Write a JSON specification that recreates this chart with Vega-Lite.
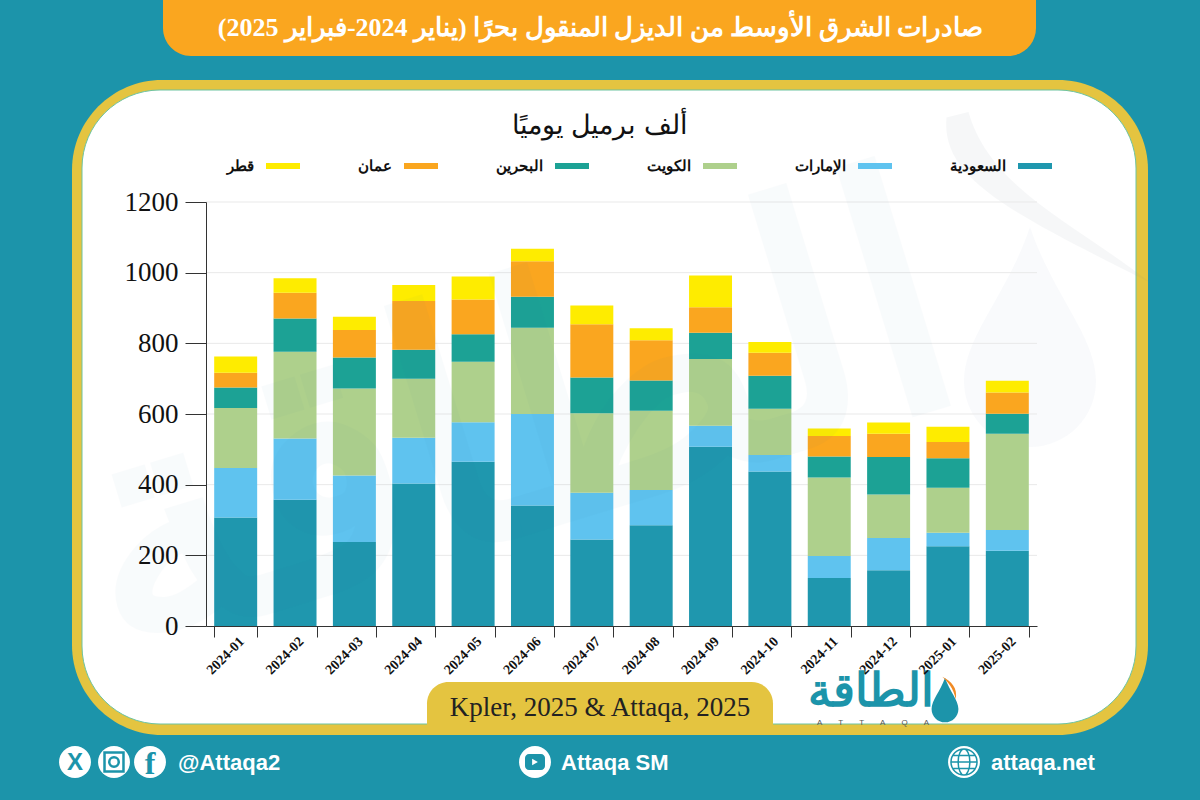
{
"$schema":"https://vega.github.io/schema/vega-lite/v6.json",
"width":831,"height":424,
"autosize":{"type":"none"},
"padding":{"left":206,"top":202,"right":163,"bottom":174},
"background":"#1c94aa",
"title":{"text":"صادرات الشرق الأوسط من الديزل المنقول بحرًا (يناير 2024-فبراير 2025)","anchor":"middle","frame":"group","dx":-21,"offset":-54,"baseline":"middle","font":"Liberation Serif","fontSize":26,"fontWeight":"bold","color":"#ffffff"},
"config":{"view":{"stroke":null}},
"datasets":{
"exports":[
{"month":"2024-01","country":"السعودية","rank":1,"value":307},{"month":"2024-01","country":"الإمارات","rank":2,"value":140},{"month":"2024-01","country":"الكويت","rank":3,"value":170},{"month":"2024-01","country":"البحرين","rank":4,"value":58},{"month":"2024-01","country":"عمان","rank":5,"value":42},{"month":"2024-01","country":"قطر","rank":6,"value":46},
{"month":"2024-02","country":"السعودية","rank":1,"value":357},{"month":"2024-02","country":"الإمارات","rank":2,"value":174},{"month":"2024-02","country":"الكويت","rank":3,"value":245},{"month":"2024-02","country":"البحرين","rank":4,"value":94},{"month":"2024-02","country":"عمان","rank":5,"value":73},{"month":"2024-02","country":"قطر","rank":6,"value":41},
{"month":"2024-03","country":"السعودية","rank":1,"value":238},{"month":"2024-03","country":"الإمارات","rank":2,"value":188},{"month":"2024-03","country":"الكويت","rank":3,"value":246},{"month":"2024-03","country":"البحرين","rank":4,"value":88},{"month":"2024-03","country":"عمان","rank":5,"value":78},{"month":"2024-03","country":"قطر","rank":6,"value":37},
{"month":"2024-04","country":"السعودية","rank":1,"value":403},{"month":"2024-04","country":"الإمارات","rank":2,"value":130},{"month":"2024-04","country":"الكويت","rank":3,"value":167},{"month":"2024-04","country":"البحرين","rank":4,"value":82},{"month":"2024-04","country":"عمان","rank":5,"value":138},{"month":"2024-04","country":"قطر","rank":6,"value":45},
{"month":"2024-05","country":"السعودية","rank":1,"value":465},{"month":"2024-05","country":"الإمارات","rank":2,"value":112},{"month":"2024-05","country":"الكويت","rank":3,"value":171},{"month":"2024-05","country":"البحرين","rank":4,"value":78},{"month":"2024-05","country":"عمان","rank":5,"value":98},{"month":"2024-05","country":"قطر","rank":6,"value":65},
{"month":"2024-06","country":"السعودية","rank":1,"value":341},{"month":"2024-06","country":"الإمارات","rank":2,"value":259},{"month":"2024-06","country":"الكويت","rank":3,"value":244},{"month":"2024-06","country":"البحرين","rank":4,"value":88},{"month":"2024-06","country":"عمان","rank":5,"value":100},{"month":"2024-06","country":"قطر","rank":6,"value":36},
{"month":"2024-07","country":"السعودية","rank":1,"value":245},{"month":"2024-07","country":"الإمارات","rank":2,"value":132},{"month":"2024-07","country":"الكويت","rank":3,"value":225},{"month":"2024-07","country":"البحرين","rank":4,"value":101},{"month":"2024-07","country":"عمان","rank":5,"value":151},{"month":"2024-07","country":"قطر","rank":6,"value":53},
{"month":"2024-08","country":"السعودية","rank":1,"value":285},{"month":"2024-08","country":"الإمارات","rank":2,"value":100},{"month":"2024-08","country":"الكويت","rank":3,"value":224},{"month":"2024-08","country":"البحرين","rank":4,"value":86},{"month":"2024-08","country":"عمان","rank":5,"value":114},{"month":"2024-08","country":"قطر","rank":6,"value":34},
{"month":"2024-09","country":"السعودية","rank":1,"value":507},{"month":"2024-09","country":"الإمارات","rank":2,"value":60},{"month":"2024-09","country":"الكويت","rank":3,"value":189},{"month":"2024-09","country":"البحرين","rank":4,"value":74},{"month":"2024-09","country":"عمان","rank":5,"value":72},{"month":"2024-09","country":"قطر","rank":6,"value":90},
{"month":"2024-10","country":"السعودية","rank":1,"value":437},{"month":"2024-10","country":"الإمارات","rank":2,"value":47},{"month":"2024-10","country":"الكويت","rank":3,"value":131},{"month":"2024-10","country":"البحرين","rank":4,"value":93},{"month":"2024-10","country":"عمان","rank":5,"value":65},{"month":"2024-10","country":"قطر","rank":6,"value":31},
{"month":"2024-11","country":"السعودية","rank":1,"value":136},{"month":"2024-11","country":"الإمارات","rank":2,"value":62},{"month":"2024-11","country":"الكويت","rank":3,"value":222},{"month":"2024-11","country":"البحرين","rank":4,"value":60},{"month":"2024-11","country":"عمان","rank":5,"value":58},{"month":"2024-11","country":"قطر","rank":6,"value":21},
{"month":"2024-12","country":"السعودية","rank":1,"value":158},{"month":"2024-12","country":"الإمارات","rank":2,"value":91},{"month":"2024-12","country":"الكويت","rank":3,"value":123},{"month":"2024-12","country":"البحرين","rank":4,"value":106},{"month":"2024-12","country":"عمان","rank":5,"value":66},{"month":"2024-12","country":"قطر","rank":6,"value":32},
{"month":"2025-01","country":"السعودية","rank":1,"value":226},{"month":"2025-01","country":"الإمارات","rank":2,"value":38},{"month":"2025-01","country":"الكويت","rank":3,"value":127},{"month":"2025-01","country":"البحرين","rank":4,"value":84},{"month":"2025-01","country":"عمان","rank":5,"value":46},{"month":"2025-01","country":"قطر","rank":6,"value":43},
{"month":"2025-02","country":"السعودية","rank":1,"value":213},{"month":"2025-02","country":"الإمارات","rank":2,"value":59},{"month":"2025-02","country":"الكويت","rank":3,"value":272},{"month":"2025-02","country":"البحرين","rank":4,"value":57},{"month":"2025-02","country":"عمان","rank":5,"value":60},{"month":"2025-02","country":"قطر","rank":6,"value":33}
],
"grid":[{"tick":200},{"tick":400},{"tick":600},{"tick":800},{"tick":1000},{"tick":1200}],
"one":[{"note":"frame"}]
},
"layer":[
{"data":{"name":"one"},"mark":{"type":"rect","x":-134,"x2":942,"y":-122,"y2":533,"fill":"#e4c440","cornerRadius":90}},
{"data":{"name":"one"},"mark":{"type":"rect","x":-124,"x2":930,"y":-112,"y2":522,"fill":"#ffffff","stroke":"#6cc3a0","strokeWidth":1,"cornerRadius":78}},
{"data":{"name":"one"},"mark":{"type":"rect","x":-43,"x2":830,"y":-202,"y2":-146,"fill":"#faa61f","cornerRadiusBottomLeft":34,"cornerRadiusBottomRight":34}},
{"data":{"name":"one"},"mark":{"type":"rect","x":221,"x2":567,"y":480,"y2":523,"fill":"#e4c440","cornerRadiusTopLeft":28,"cornerRadiusTopRight":28}},
{"data":{"name":"one"},"mark":{"type":"point","x":824,"y":135,"shape":"M0,-1C0.2,-0.4 0.6,0 0.6,0.4A0.6,0.6 0 0 1 -0.6,0.4C-0.6,0 -0.2,-0.4 0,-1Z","size":48400,"filled":true,"fill":"#5a7fa8","opacity":0.035}},
{"data":{"name":"one"},"mark":{"type":"point","x":845,"y":20,"shape":"M-0.95,-0.95C-1,-0.4 -0.4,-0.1 0.9,0.55C0.2,0 -0.55,-0.3 -0.75,-1Z","size":48400,"filled":true,"fill":"#8090a0","opacity":0.07}},
{"data":{"name":"grid"},"mark":{"type":"rule","color":"#e9e9e9","strokeWidth":1},"encoding":{"y":{"field":"tick","type":"quantitative","scale":{"domain":[0,1200]}}}},
{"data":{"name":"exports"},"mark":{"type":"bar"},
"encoding":{
"x":{"field":"month","type":"nominal","sort":null,"scale":{"paddingInner":0.276,"paddingOuter":0.138},
"axis":{"zindex":1,"title":null,"domainColor":"#333333","tickColor":"#333333","tickSize":11,"tickBand":"extent","labelAngle":-45,"labelAlign":"right","labelBaseline":"middle","labelFont":"Liberation Serif","labelFontWeight":"bold","labelFontSize":14,"labelColor":"#111111","labelPadding":2,"labelOffset":6,"labelOverlap":false}},
"y":{"field":"value","type":"quantitative","stack":"zero","scale":{"domain":[0,1200]},
"axis":{"zindex":1,"format":"d","title":"ألف برميل يوميًا","titleAngle":0,"titleX":393,"titleY":-77,"titleAlign":"center","titleBaseline":"middle","titleFont":"Liberation Sans","titleFontSize":27,"titleFontWeight":"normal","titleColor":"#111111","values":[0,200,400,600,800,1000,1200],"grid":false,"domainColor":"#333333","tickColor":"#333333","tickSize":21,"labelFont":"Liberation Serif","labelFontSize":27,"labelColor":"#111111","labelPadding":7}},
"order":{"field":"rank","type":"quantitative"},
"color":{"field":"country","type":"nominal","title":null,
"scale":{"domain":["السعودية","الإمارات","الكويت","البحرين","عمان","قطر"],"range":["#1f97ae","#5fc3ef","#aed08c","#1ca295","#faa61f","#feec00"]},
"legend":{"orient":"none","legendX":60,"legendY":-53,"direction":"horizontal","columns":6,"values":["قطر","عمان","البحرين","الكويت","الإمارات","السعودية"],"columnPadding":58,"symbolType":"M-1,-0.176H1V0.176H-1Z","symbolSize":1156,"symbolStrokeWidth":0,"symbolOpacity":1,"labelAlign":"right","labelOffset":-46,"labelFont":"Liberation Sans","labelFontSize":15,"labelFontWeight":"bold","labelColor":"#111111","labelLimit":200}}
}},
{"data":{"name":"one"},"mark":{"type":"text","x":394,"y":506,"text":"Kpler, 2025 & Attaqa, 2025","font":"Liberation Serif","fontSize":27,"color":"#222222","align":"center","baseline":"middle"}},
{"data":{"name":"one"},"mark":{"type":"text","x":665,"y":490,"text":"الطاقة","font":"Liberation Sans","fontWeight":"bold","fontSize":46,"color":"#1c94aa","align":"center","baseline":"middle"}},
{"data":{"name":"one"},"mark":{"type":"text","x":667,"y":521,"text":"A\u2003\u2003T\u2003\u2003T\u2003\u2003A\u2003\u2003Q\u2003\u2003A","font":"Liberation Sans","fontSize":8,"color":"#555555","align":"center","baseline":"middle"}},
{"data":{"name":"one"},"mark":{"type":"point","x":739,"y":498,"shape":"M0,-1C0.2,-0.4 0.6,0 0.6,0.4A0.6,0.6 0 0 1 -0.6,0.4C-0.6,0 -0.2,-0.4 0,-1Z","size":2000,"filled":true,"fill":"#1c94aa","opacity":1}},
{"data":{"name":"one"},"mark":{"type":"point","x":743,"y":486,"shape":"M-0.6,-1C0.2,-0.6 0.8,0 0.6,1C0.4,0 -0.1,-0.5 -0.6,-1Z","size":500,"filled":true,"fill":"#f08a24","opacity":1}},
{"data":{"name":"one"},"mark":{"type":"text","x":309,"y":228,"text":"الطاقة","angle":-17,"font":"Liberation Sans","fontWeight":"bold","fontSize":330,"color":"#1f6f9f","opacity":0.025,"align":"center","baseline":"middle"}},
{"data":{"name":"one"},"mark":{"type":"point","x":-131,"y":560,"shape":"circle","size":1018,"filled":true,"fill":"#ffffff","opacity":1}},
{"data":{"name":"one"},"mark":{"type":"point","x":-92,"y":560,"shape":"circle","size":1018,"filled":true,"fill":"#ffffff","opacity":1}},
{"data":{"name":"one"},"mark":{"type":"point","x":-56,"y":560,"shape":"circle","size":1018,"filled":true,"fill":"#ffffff","opacity":1}},
{"data":{"name":"one"},"mark":{"type":"point","x":329,"y":560,"shape":"circle","size":1018,"filled":true,"fill":"#ffffff","opacity":1}},
{"data":{"name":"one"},"mark":{"type":"point","x":758,"y":560,"shape":"circle","size":1018,"filled":true,"fill":"#ffffff","opacity":1}},
{"data":{"name":"one"},"mark":{"type":"text","x":-131,"y":561,"text":"X","font":"Liberation Sans","fontWeight":"bold","fontSize":24,"color":"#1c94aa","align":"center","baseline":"middle"}},
{"data":{"name":"one"},"mark":{"type":"point","x":-92,"y":560,"shape":"circle","size":90,"filled":false,"stroke":"#1c94aa","strokeWidth":2.5,"opacity":1}},
{"data":{"name":"one"},"mark":{"type":"point","x":-92,"y":560,"shape":"square","size":360,"filled":false,"stroke":"#1c94aa","strokeWidth":2.5,"opacity":1}},
{"data":{"name":"one"},"mark":{"type":"text","x":-56,"y":562,"text":"f","font":"Liberation Serif","fontWeight":"bold","fontSize":32,"color":"#1c94aa","align":"center","baseline":"middle"}},
{"data":{"name":"one"},"mark":{"type":"rect","x":319,"x2":339,"y":552,"y2":568,"fill":"#1c94aa","cornerRadius":4}},
{"data":{"name":"one"},"mark":{"type":"point","x":329,"y":560,"shape":"triangle-right","size":45,"filled":true,"fill":"#ffffff","opacity":1}},
{"data":{"name":"one"},"mark":{"type":"point","x":758,"y":560,"shape":"M-1,0A1,1 0 1 0 1,0A1,1 0 1 0 -1,0M-1,0H1M0,-1A0.45,1 0 0 0 0,1A0.45,1 0 0 0 0,-1M-0.85,-0.5H0.85M-0.85,0.5H0.85","size":680,"filled":false,"stroke":"#1c94aa","strokeWidth":1.5,"opacity":1}},
{"data":{"name":"one"},"mark":{"type":"text","x":-28,"y":561,"text":"@Attaqa2","font":"Liberation Sans","fontWeight":"bold","fontSize":22,"color":"#ffffff","align":"left","baseline":"middle"}},
{"data":{"name":"one"},"mark":{"type":"text","x":355,"y":561,"text":"Attaqa SM","font":"Liberation Sans","fontWeight":"bold","fontSize":22,"color":"#ffffff","align":"left","baseline":"middle"}},
{"data":{"name":"one"},"mark":{"type":"text","x":785,"y":561,"text":"attaqa.net","font":"Liberation Sans","fontWeight":"bold","fontSize":22,"color":"#ffffff","align":"left","baseline":"middle"}}
]
}
